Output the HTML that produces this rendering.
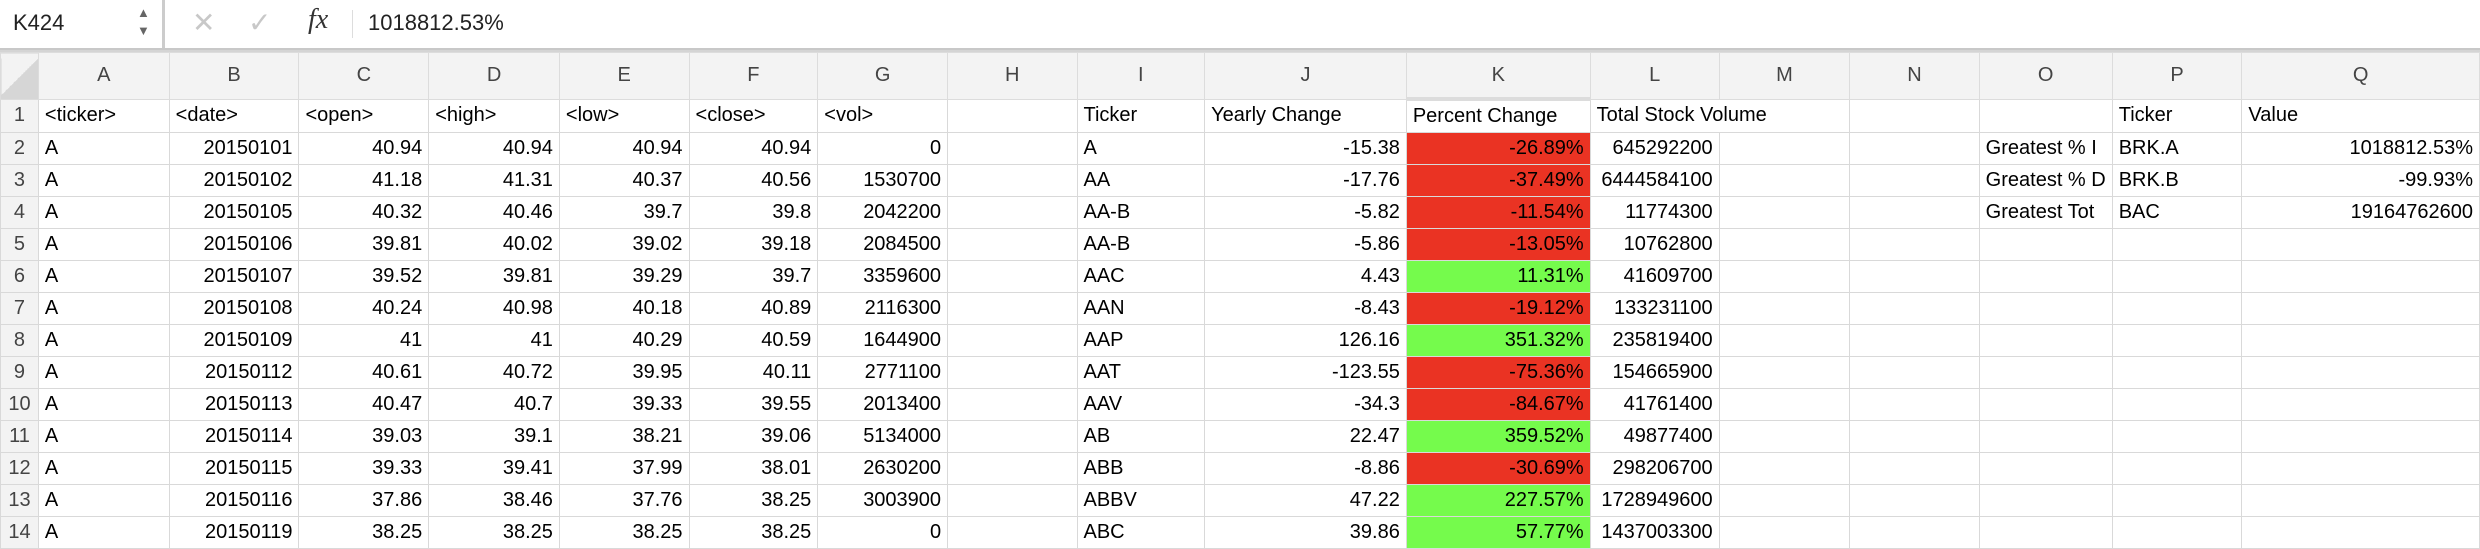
<!DOCTYPE html>
<html><head><meta charset="utf-8">
<style>
body{margin:0;width:2480px;height:548px;overflow:hidden;background:#fff;font-family:"Liberation Sans",sans-serif;}
#fbar{position:absolute;left:0;top:0;width:2480px;height:48px;background:#fff;border-bottom:2px solid #c8c8c8;}
#sep{position:absolute;left:0;top:50px;width:2480px;height:2px;background:#d4d4d4;}
table{position:absolute;left:0;top:52px;border-collapse:collapse;table-layout:fixed;font-size:20px;}
td{border:1px solid #d9d9d9;height:31px;padding:0 6px;white-space:nowrap;overflow:hidden;color:#000;}
tr.hdr td{background:#f3f3f3;height:44px;text-align:center;color:#444;font-size:20px;border-color:#dcdcdc;}
td.rn{background:#f3f3f3;text-align:center;color:#444;padding:0;}
.r{text-align:right;}
.red{background:#ea3323;}
.grn{background:#75fb4c;}
td.ksel{color:#217346;border-bottom:4px solid #3c7a4f;}
</style></head><body>
<div id="fbar">
  <div style="position:absolute;left:13px;top:10px;font-size:22px;color:#222;">K424</div>
  <div style="position:absolute;left:137px;top:4px;font-size:13px;color:#666;line-height:18px;">▲<br>▼</div>
  <div style="position:absolute;left:162px;top:0;width:3px;height:48px;background:#ccc;"></div>
  <div style="position:absolute;left:192px;top:6px;font-size:28px;color:#c8c8c8;">✕</div>
  <div style="position:absolute;left:248px;top:6px;font-size:28px;color:#c8c8c8;">✓</div>
  <div style="position:absolute;left:308px;top:4px;font-size:28px;font-style:italic;font-family:'Liberation Serif',serif;color:#333;">fx</div>
  <div style="position:absolute;left:352px;top:10px;width:1px;height:28px;background:#ddd;"></div>
  <div style="position:absolute;left:368px;top:10px;font-size:22px;color:#222;">1018812.53%</div>
</div>
<div id="sep"></div>
<table>
<colgroup><col style="width:38px"><col style="width:131px"><col style="width:130px"><col style="width:130px"><col style="width:131px"><col style="width:130px"><col style="width:129px"><col style="width:130px"><col style="width:130px"><col style="width:128px"><col style="width:202px"><col style="width:184px"><col style="width:129px"><col style="width:131px"><col style="width:130px"><col style="width:129px"><col style="width:130px"><col style="width:238px"></colgroup>
<tr class="hdr"><td style="background:linear-gradient(135deg,#f3f3f3 50%,#d6d6d6 50%);"></td><td>A</td><td>B</td><td>C</td><td>D</td><td>E</td><td>F</td><td>G</td><td>H</td><td>I</td><td>J</td><td class="ksel">K</td><td>L</td><td>M</td><td>N</td><td>O</td><td>P</td><td>Q</td></tr>
<tr><td class="rn">1</td><td>&lt;ticker&gt;</td><td>&lt;date&gt;</td><td>&lt;open&gt;</td><td>&lt;high&gt;</td><td>&lt;low&gt;</td><td>&lt;close&gt;</td><td>&lt;vol&gt;</td><td></td><td>Ticker</td><td>Yearly Change</td><td>Percent Change</td><td colspan="2" style="border-right-color:#d9d9d9">Total Stock Volume</td><td></td><td></td><td>Ticker</td><td>Value</td></tr>
<tr><td class="rn">2</td><td>A</td><td class="r">20150101</td><td class="r">40.94</td><td class="r">40.94</td><td class="r">40.94</td><td class="r">40.94</td><td class="r">0</td><td></td><td>A</td><td class="r">-15.38</td><td class="r red">-26.89%</td><td class="r">645292200</td><td></td><td></td><td>Greatest % I</td><td>BRK.A</td><td class="r">1018812.53%</td></tr>
<tr><td class="rn">3</td><td>A</td><td class="r">20150102</td><td class="r">41.18</td><td class="r">41.31</td><td class="r">40.37</td><td class="r">40.56</td><td class="r">1530700</td><td></td><td>AA</td><td class="r">-17.76</td><td class="r red">-37.49%</td><td class="r">6444584100</td><td></td><td></td><td>Greatest % D</td><td>BRK.B</td><td class="r">-99.93%</td></tr>
<tr><td class="rn">4</td><td>A</td><td class="r">20150105</td><td class="r">40.32</td><td class="r">40.46</td><td class="r">39.7</td><td class="r">39.8</td><td class="r">2042200</td><td></td><td>AA-B</td><td class="r">-5.82</td><td class="r red">-11.54%</td><td class="r">11774300</td><td></td><td></td><td>Greatest Tot</td><td>BAC</td><td class="r">19164762600</td></tr>
<tr><td class="rn">5</td><td>A</td><td class="r">20150106</td><td class="r">39.81</td><td class="r">40.02</td><td class="r">39.02</td><td class="r">39.18</td><td class="r">2084500</td><td></td><td>AA-B</td><td class="r">-5.86</td><td class="r red">-13.05%</td><td class="r">10762800</td><td></td><td></td><td></td><td></td><td></td></tr>
<tr><td class="rn">6</td><td>A</td><td class="r">20150107</td><td class="r">39.52</td><td class="r">39.81</td><td class="r">39.29</td><td class="r">39.7</td><td class="r">3359600</td><td></td><td>AAC</td><td class="r">4.43</td><td class="r grn">11.31%</td><td class="r">41609700</td><td></td><td></td><td></td><td></td><td></td></tr>
<tr><td class="rn">7</td><td>A</td><td class="r">20150108</td><td class="r">40.24</td><td class="r">40.98</td><td class="r">40.18</td><td class="r">40.89</td><td class="r">2116300</td><td></td><td>AAN</td><td class="r">-8.43</td><td class="r red">-19.12%</td><td class="r">133231100</td><td></td><td></td><td></td><td></td><td></td></tr>
<tr><td class="rn">8</td><td>A</td><td class="r">20150109</td><td class="r">41</td><td class="r">41</td><td class="r">40.29</td><td class="r">40.59</td><td class="r">1644900</td><td></td><td>AAP</td><td class="r">126.16</td><td class="r grn">351.32%</td><td class="r">235819400</td><td></td><td></td><td></td><td></td><td></td></tr>
<tr><td class="rn">9</td><td>A</td><td class="r">20150112</td><td class="r">40.61</td><td class="r">40.72</td><td class="r">39.95</td><td class="r">40.11</td><td class="r">2771100</td><td></td><td>AAT</td><td class="r">-123.55</td><td class="r red">-75.36%</td><td class="r">154665900</td><td></td><td></td><td></td><td></td><td></td></tr>
<tr><td class="rn">10</td><td>A</td><td class="r">20150113</td><td class="r">40.47</td><td class="r">40.7</td><td class="r">39.33</td><td class="r">39.55</td><td class="r">2013400</td><td></td><td>AAV</td><td class="r">-34.3</td><td class="r red">-84.67%</td><td class="r">41761400</td><td></td><td></td><td></td><td></td><td></td></tr>
<tr><td class="rn">11</td><td>A</td><td class="r">20150114</td><td class="r">39.03</td><td class="r">39.1</td><td class="r">38.21</td><td class="r">39.06</td><td class="r">5134000</td><td></td><td>AB</td><td class="r">22.47</td><td class="r grn">359.52%</td><td class="r">49877400</td><td></td><td></td><td></td><td></td><td></td></tr>
<tr><td class="rn">12</td><td>A</td><td class="r">20150115</td><td class="r">39.33</td><td class="r">39.41</td><td class="r">37.99</td><td class="r">38.01</td><td class="r">2630200</td><td></td><td>ABB</td><td class="r">-8.86</td><td class="r red">-30.69%</td><td class="r">298206700</td><td></td><td></td><td></td><td></td><td></td></tr>
<tr><td class="rn">13</td><td>A</td><td class="r">20150116</td><td class="r">37.86</td><td class="r">38.46</td><td class="r">37.76</td><td class="r">38.25</td><td class="r">3003900</td><td></td><td>ABBV</td><td class="r">47.22</td><td class="r grn">227.57%</td><td class="r">1728949600</td><td></td><td></td><td></td><td></td><td></td></tr>
<tr><td class="rn">14</td><td>A</td><td class="r">20150119</td><td class="r">38.25</td><td class="r">38.25</td><td class="r">38.25</td><td class="r">38.25</td><td class="r">0</td><td></td><td>ABC</td><td class="r">39.86</td><td class="r grn">57.77%</td><td class="r">1437003300</td><td></td><td></td><td></td><td></td><td></td></tr>
</table>
</body></html>
